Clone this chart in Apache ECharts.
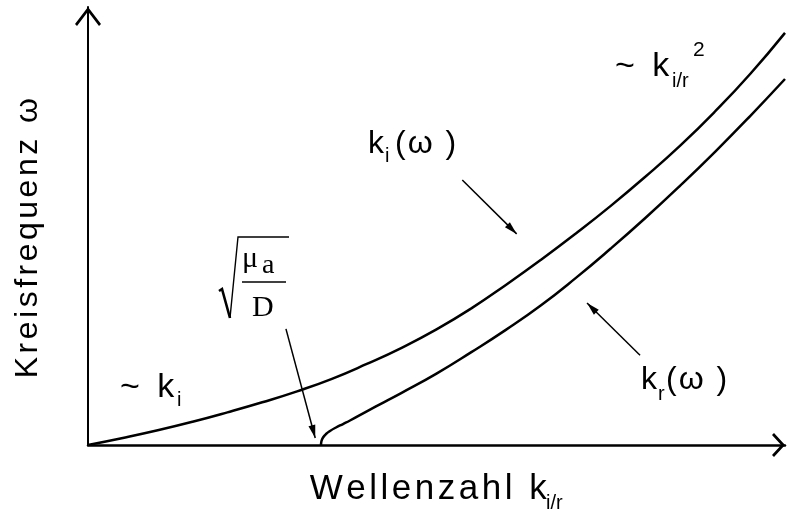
<!DOCTYPE html>
<html>
<head>
<meta charset="utf-8">
<script src="https://cdn.jsdelivr.net/npm/echarts@6/dist/echarts.min.js"></script>
<style>
  html, body { margin: 0; padding: 0; background: #fff; }
  #chart { width: 787px; height: 515px; }
</style>
</head>
<body>
<div id="chart"></div>
<script>
// Dispersion branches: wave number k (x) against angular frequency ω (y)
const kImag = [0, 0.5, 1, 1.5, 2, 2.5, 3, 3.5, 4, 4.5, 5, 5.5, 6, 6.5, 7, 7.5, 8, 8.5, 9, 9.5, 10];
const wImag = [0, 0.16, 0.335, 0.53, 0.745, 0.975, 1.225, 1.51, 1.85, 2.22, 2.64, 3.12, 3.66, 4.23, 4.83, 5.46, 6.13, 6.84, 7.62, 8.47, 9.41];
const kReal = [3.343, 3.35, 3.372, 3.415, 3.472, 3.558, 3.659, 3.759, 4.0, 4.25, 4.5, 5, 5.5, 6, 6.5, 7, 7.5, 8, 8.5, 9, 9.5, 10];
const wReal = [0, 0.091, 0.171, 0.251, 0.32, 0.40, 0.479, 0.559, 0.768, 0.98, 1.19, 1.63, 2.12, 2.634, 3.19, 3.815, 4.485, 5.188, 5.927, 6.70, 7.511, 8.356];

// Pointer arrows: [from k, from ω, to k, to ω]
const arrows = [
  [2.84, 2.65, 3.26, 0.16],
  [5.37, 6.05, 6.15, 4.82],
  [7.92, 2.05, 7.16, 3.24]
];

// Texts
const xName = 'Wellenzahl k';
const xNameSub = 'i/r';
const yName = 'Kreisfrequenz ω';
const linearText = '~ k';
const linearSub = 'i';
const quadText = '~ k';
const quadSub = 'i/r';
const quadSup = '2';
const kiMain = 'k';
const kiSub = 'i';
const krMain = 'k';
const krSub = 'r';
const omegaArg = '(ω )';
const muText = 'μ';
const muSub = 'a';
const denomText = 'D';

const SANS = '"Liberation Sans", Arial, Helvetica, sans-serif';
const SERIF = '"Liberation Serif", "Times New Roman", serif';

// rich-text tokens, one per character, so each can carry side padding (letter spacing)
function spaced(str, key) {
  return Array.from(str).map(c => '{' + key + '|' + c + '}').join('');
}

// text placed by its baseline
function label(str, x, base, size, o) {
  o = o || {};
  const fam = o.family || SANS;
  const sp = o.sp || 0;
  const el = {
    type: 'text',
    x: x,
    y: base - 0.31 * size,
    silent: true,
    z: 10,
    style: {
      text: sp ? spaced(str, 'c') : str,
      fill: '#000',
      fontSize: size,
      fontFamily: fam,
      align: 'left',
      verticalAlign: 'middle'
    }
  };
  if (sp) {
    el.style.rich = { c: { fontSize: size, fontFamily: fam, fill: '#000', padding: [0, sp] } };
  }
  return el;
}

const chevronUpY = 'path://M13,0 L26,17 L24,19 L13,4.5 L2,19 L0,17 Z';
const chevronUpX = 'path://M12,0 L24,11 L22,13 L12,3.8 L2,13 L0,11 Z';
const arrowHead = 'path://M5,0 L10,20 L0,20 Z';

const yTitle = label(yName, 28, 0, 32, { sp: 1.75 });
yTitle.x = 28;
yTitle.y = 380;
yTitle.rotation = Math.PI / 2;

const graphics = [
  label(xName, 308, 500, 35, { sp: 1.75 }),
  label(xNameSub, 546, 510, 20),
  yTitle,

  label(linearText, 118, 398, 34, { sp: 2 }),
  label(linearSub, 177, 407, 20),

  label(quadText, 613, 77, 34, { sp: 2 }),
  label(quadSub, 672, 88, 20),
  label(quadSup, 693, 57, 21),

  label(kiMain, 368, 154, 32),
  label(kiSub, 385, 163, 20),
  label(omegaArg, 394, 154, 32, { sp: 1 }),

  label(krMain, 641, 390, 32),
  label(krSub, 658, 401, 20),
  label(omegaArg, 665, 390, 32, { sp: 1 }),

  // square root of the fraction
  {
    type: 'polyline', silent: true, z: 10,
    shape: { points: [[219, 291], [222, 289], [230, 318]] },
    style: { stroke: '#000', lineWidth: 2.6, fill: null }
  },
  {
    type: 'polyline', silent: true, z: 10,
    shape: { points: [[230, 318], [238, 237], [289, 237]] },
    style: { stroke: '#000', lineWidth: 1.4, fill: null }
  },
  label(muText, 242, 268, 30, { family: SERIF }),
  label(muSub, 262, 274, 28, { family: SERIF }),
  {
    type: 'line', silent: true, z: 10,
    shape: { x1: 242, y1: 282, x2: 286, y2: 282 },
    style: { stroke: '#000', lineWidth: 1.5 }
  },
  label(denomText, 252, 317, 30, { family: SERIF })
];

const chart = echarts.init(document.getElementById('chart'), null, { renderer: 'canvas' });

chart.setOption({
  backgroundColor: '#fff',
  animation: false,
  grid: { left: 88, right: 2, top: 7, bottom: 70 },
  xAxis: {
    type: 'value', min: 0, max: 10,
    axisLine: {
      show: true, onZero: false,
      symbol: ['none', chevronUpX], symbolSize: [24, 13], symbolOffset: [0, -6.5],
      lineStyle: { color: '#000', width: 2.5 }
    },
    axisTick: { show: false }, axisLabel: { show: false }, splitLine: { show: false }
  },
  yAxis: {
    type: 'value', min: 0, max: 10,
    axisLine: {
      show: true, onZero: false,
      symbol: ['none', chevronUpY], symbolSize: [26, 19], symbolOffset: [0, -9.5],
      lineStyle: { color: '#000', width: 2 }
    },
    axisTick: { show: false }, axisLabel: { show: false }, splitLine: { show: false }
  },
  series: [
    {
      name: 'k_i(ω)', type: 'line', silent: true,
      data: kImag.map((k, i) => [k, wImag[i]]),
      showSymbol: false, smooth: 0.5, clip: false,
      lineStyle: { color: '#000', width: 2.5 },
      markLine: {
        silent: true, animation: false,
        label: { show: false },
        emphasis: { disabled: true },
        lineStyle: { color: '#000', width: 1.5, type: 'solid' },
        data: arrows.map(a => [
          { coord: [a[0], a[1]], symbol: 'none' },
          { coord: [a[2], a[3]], symbol: arrowHead, symbolSize: [7, 13], symbolOffset: [0, 6.5] }
        ])
      }
    },
    {
      name: 'k_r(ω)', type: 'line', silent: true,
      data: kReal.map((k, i) => [k, wReal[i]]),
      showSymbol: false, smooth: 0.5, clip: false,
      lineStyle: { color: '#000', width: 2.5 }
    }
  ],
  graphic: graphics
});
</script>
</body>
</html>
